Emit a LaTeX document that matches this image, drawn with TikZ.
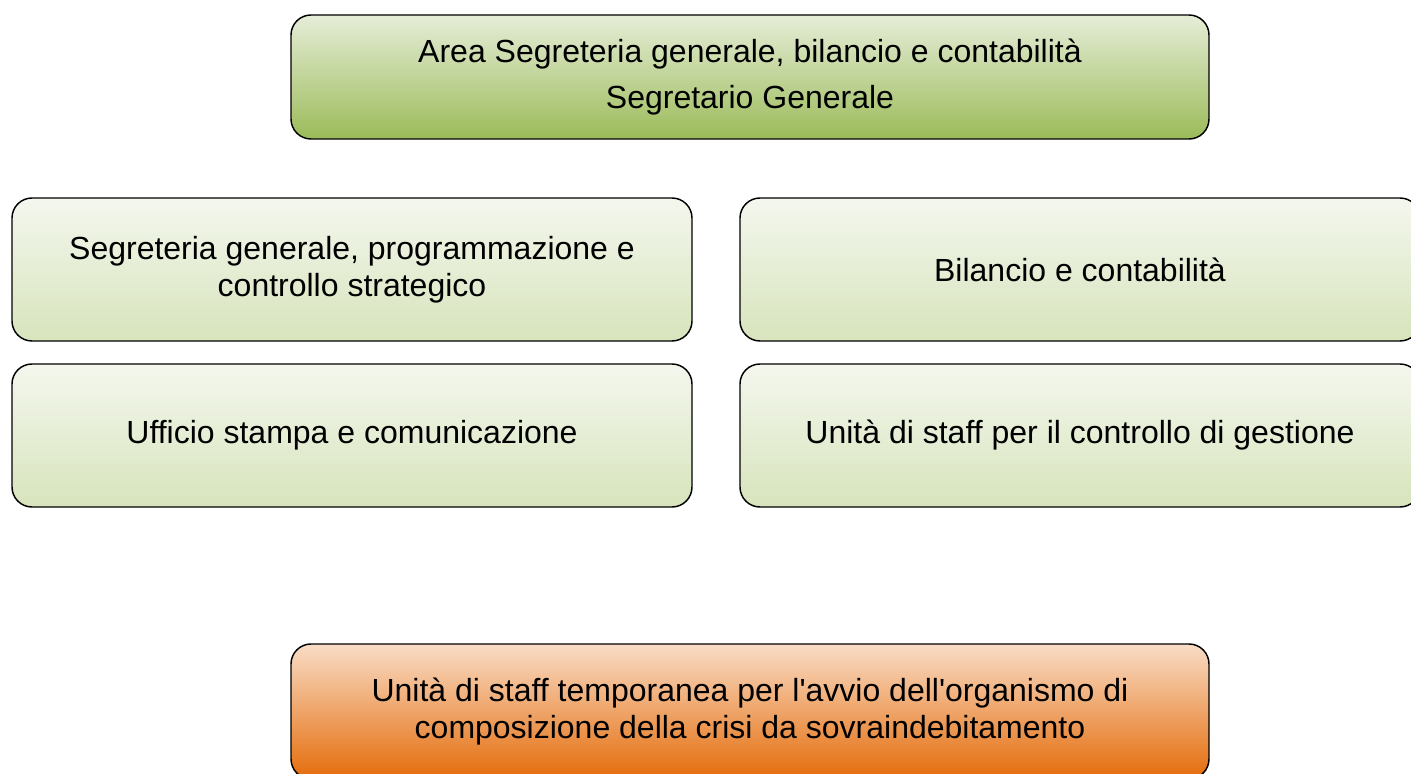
\documentclass[tikz,border=0pt]{standalone}
\usepackage{fontspec}
\setmainfont{Liberation Sans}
\usetikzlibrary{calc}

\definecolor{areaTop}{HTML}{E6EDD8}
\definecolor{areaBot}{HTML}{9BBB59}
\definecolor{unitTop}{HTML}{F4F7EE}
\definecolor{unitBot}{HTML}{D7E4BC}
\definecolor{tempTop}{HTML}{F9DCC6}
\definecolor{tempBot}{HTML}{E46C0A}

\tikzset{
  orgbox/.style={draw=black, line width=1.1pt, rounded corners=15pt,
    align=center, inner sep=0pt, font=\fontsize{24}{28}\selectfont},
  areabox/.style={orgbox, minimum width=688.5pt, minimum height=93pt,
    top color=areaTop, bottom color=areaBot, font=\fontsize{24}{34}\selectfont},
  unitbox/.style={orgbox, minimum width=510pt, minimum height=107.25pt,
    top color=unitTop, bottom color=unitBot},
  tempbox/.style={orgbox, minimum width=688.5pt, minimum height=101.25pt,
    top color=tempTop, bottom color=tempBot}
}

\begin{document}
\begin{tikzpicture}[x=0.75pt, y=-0.75pt]
  \useasboundingbox (0,0) rectangle (1411,774);
  \def\colSep{728}
  \def\rowSep{166}
  % Area: node
  \node [areabox] (area) at (750, 77) %
  {Area Segreteria generale, bilancio e contabilità\\Segretario Generale};

  % Units: nodes
  \node [unitbox] (segr) at (352, 269.5) %
  {Segreteria generale, programmazione e\\controllo strategico};
  \node [unitbox] (bil) at ($(segr)+(\colSep, 0)$) %
  {Bilancio e contabilità};
  \node [unitbox] (uff) at ($(segr)+(0, \rowSep)$) %
  {Ufficio stampa e comunicazione};
  \node [unitbox] (ctrl) at ($(uff)+(\colSep, 0)$) %
  {Unità di staff per il controllo di gestione};

  % Temporary unit: node
  \node [tempbox] (occ) at ($(area)+(0, 634.5)$) %
  {Unità di staff temporanea per l\textquotesingle avvio dell\textquotesingle organismo di\\%
   composizione della crisi da sovraindebitamento};
\end{tikzpicture}
\end{document}
